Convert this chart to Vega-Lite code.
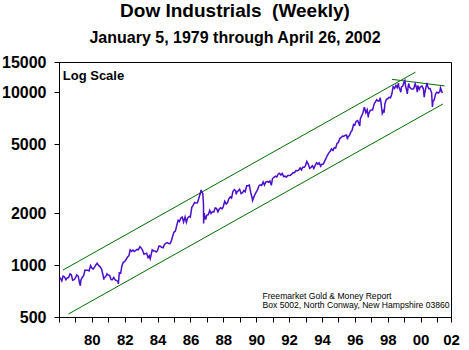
{
  "$schema": "https://vega.github.io/schema/vega-lite/v6.json",
  "width": 392,
  "height": 255,
  "padding": {"left": 1, "top": 2, "right": 10, "bottom": 2},
  "title": {
    "text": "Dow Industrials \u00a0(Weekly)",
    "subtitle": "January 5, 1979 through April 26, 2002",
    "anchor": "middle",
    "dx": -20,
    "font": "Liberation Sans",
    "fontSize": 19,
    "fontWeight": "bold",
    "color": "black",
    "subtitleFont": "Liberation Sans",
    "subtitleFontSize": 16,
    "subtitleFontWeight": "bold",
    "subtitleColor": "black",
    "subtitlePadding": 9,
    "offset": 8
  },
  "config": {
    "view": {"stroke": "black", "strokeWidth": 1},
    "axis": {
      "domainColor": "black",
      "tickColor": "black",
      "labelColor": "black",
      "labelFont": "Liberation Sans",
      "labelFontWeight": "bold",
      "grid": false,
      "tickSize": 5,
      "domainWidth": 1,
      "tickWidth": 1,
      "labelOverlap": false
    }
  },
  "datasets": {
    "dow": [
      {"t":1979.01,"v":830},{"t":1979.08,"v":839},{"t":1979.17,"v":809},{"t":1979.25,"v":862},{"t":1979.33,"v":855},{"t":1979.42,"v":822},{"t":1979.50,"v":842},{"t":1979.58,"v":846},{"t":1979.67,"v":888},{"t":1979.75,"v":878},{"t":1979.83,"v":816},{"t":1979.92,"v":822},{"t":1979.99,"v":839},
      {"t":1980.08,"v":876},{"t":1980.17,"v":863},{"t":1980.25,"v":786},{"t":1980.30,"v":759},{"t":1980.33,"v":817},{"t":1980.42,"v":851},{"t":1980.50,"v":868},{"t":1980.58,"v":935},{"t":1980.67,"v":933},{"t":1980.75,"v":932},{"t":1980.83,"v":925},{"t":1980.92,"v":993},{"t":1980.99,"v":964},
      {"t":1981.08,"v":947},{"t":1981.17,"v":975},{"t":1981.25,"v":1004},{"t":1981.32,"v":1024},{"t":1981.42,"v":992},{"t":1981.50,"v":977},{"t":1981.58,"v":953},{"t":1981.67,"v":882},{"t":1981.73,"v":824},{"t":1981.75,"v":850},{"t":1981.83,"v":853},{"t":1981.92,"v":889},{"t":1981.99,"v":875},
      {"t":1982.08,"v":871},{"t":1982.17,"v":825},{"t":1982.25,"v":823},{"t":1982.33,"v":848},{"t":1982.42,"v":820},{"t":1982.50,"v":812},{"t":1982.58,"v":809},{"t":1982.61,"v":777},{"t":1982.67,"v":901},{"t":1982.75,"v":896},{"t":1982.83,"v":992},{"t":1982.92,"v":1039},{"t":1982.99,"v":1047},
      {"t":1983.08,"v":1076},{"t":1983.17,"v":1113},{"t":1983.25,"v":1130},{"t":1983.33,"v":1226},{"t":1983.42,"v":1200},{"t":1983.50,"v":1222},{"t":1983.58,"v":1199},{"t":1983.67,"v":1216},{"t":1983.75,"v":1233},{"t":1983.83,"v":1225},{"t":1983.92,"v":1276},{"t":1983.99,"v":1259},
      {"t":1984.08,"v":1221},{"t":1984.17,"v":1155},{"t":1984.25,"v":1165},{"t":1984.33,"v":1171},{"t":1984.42,"v":1105},{"t":1984.50,"v":1132},{"t":1984.55,"v":1087},{"t":1984.58,"v":1115},{"t":1984.67,"v":1224},{"t":1984.75,"v":1207},{"t":1984.83,"v":1207},{"t":1984.92,"v":1189},{"t":1984.99,"v":1212},
      {"t":1985.08,"v":1287},{"t":1985.17,"v":1284},{"t":1985.25,"v":1267},{"t":1985.33,"v":1258},{"t":1985.42,"v":1315},{"t":1985.50,"v":1336},{"t":1985.58,"v":1348},{"t":1985.67,"v":1334},{"t":1985.75,"v":1329},{"t":1985.83,"v":1374},{"t":1985.92,"v":1472},{"t":1985.99,"v":1547},
      {"t":1986.08,"v":1571},{"t":1986.17,"v":1709},{"t":1986.25,"v":1819},{"t":1986.33,"v":1784},{"t":1986.42,"v":1877},{"t":1986.50,"v":1893},{"t":1986.58,"v":1775},{"t":1986.67,"v":1898},{"t":1986.75,"v":1768},{"t":1986.83,"v":1878},{"t":1986.92,"v":1914},{"t":1986.99,"v":1896},
      {"t":1987.08,"v":2158},{"t":1987.17,"v":2224},{"t":1987.25,"v":2305},{"t":1987.33,"v":2286},{"t":1987.42,"v":2292},{"t":1987.50,"v":2419},{"t":1987.58,"v":2572},{"t":1987.65,"v":2722},{"t":1987.67,"v":2663},{"t":1987.75,"v":2596},{"t":1987.79,"v":2247},{"t":1987.80,"v":1739},{"t":1987.83,"v":1994},{"t":1987.92,"v":1834},{"t":1987.99,"v":1939},
      {"t":1988.08,"v":1958},{"t":1988.17,"v":2072},{"t":1988.25,"v":1988},{"t":1988.33,"v":2032},{"t":1988.42,"v":2031},{"t":1988.50,"v":2142},{"t":1988.58,"v":2129},{"t":1988.67,"v":2032},{"t":1988.75,"v":2113},{"t":1988.83,"v":2149},{"t":1988.92,"v":2115},{"t":1988.99,"v":2169},
      {"t":1989.08,"v":2342},{"t":1989.17,"v":2258},{"t":1989.25,"v":2294},{"t":1989.33,"v":2419},{"t":1989.42,"v":2480},{"t":1989.50,"v":2440},{"t":1989.58,"v":2661},{"t":1989.67,"v":2737},{"t":1989.75,"v":2693},{"t":1989.78,"v":2569},{"t":1989.83,"v":2645},{"t":1989.92,"v":2706},{"t":1989.99,"v":2753},
      {"t":1990.08,"v":2591},{"t":1990.17,"v":2627},{"t":1990.25,"v":2707},{"t":1990.33,"v":2657},{"t":1990.42,"v":2877},{"t":1990.50,"v":2881},{"t":1990.58,"v":2905},{"t":1990.67,"v":2614},{"t":1990.75,"v":2453},{"t":1990.78,"v":2365},{"t":1990.83,"v":2442},{"t":1990.92,"v":2560},{"t":1990.99,"v":2634},
      {"t":1991.08,"v":2736},{"t":1991.17,"v":2882},{"t":1991.25,"v":2914},{"t":1991.33,"v":2888},{"t":1991.42,"v":3028},{"t":1991.50,"v":2907},{"t":1991.58,"v":3025},{"t":1991.67,"v":3044},{"t":1991.75,"v":3017},{"t":1991.83,"v":3069},{"t":1991.92,"v":2895},{"t":1991.99,"v":3169},
      {"t":1992.08,"v":3224},{"t":1992.17,"v":3268},{"t":1992.25,"v":3236},{"t":1992.33,"v":3359},{"t":1992.42,"v":3397},{"t":1992.50,"v":3319},{"t":1992.58,"v":3394},{"t":1992.67,"v":3257},{"t":1992.75,"v":3272},{"t":1992.83,"v":3226},{"t":1992.92,"v":3305},{"t":1992.99,"v":3301},
      {"t":1993.08,"v":3310},{"t":1993.17,"v":3371},{"t":1993.25,"v":3435},{"t":1993.33,"v":3428},{"t":1993.42,"v":3527},{"t":1993.50,"v":3516},{"t":1993.58,"v":3540},{"t":1993.67,"v":3651},{"t":1993.75,"v":3555},{"t":1993.83,"v":3681},{"t":1993.92,"v":3684},{"t":1993.99,"v":3754},
      {"t":1994.08,"v":3978},{"t":1994.17,"v":3832},{"t":1994.25,"v":3636},{"t":1994.33,"v":3682},{"t":1994.42,"v":3758},{"t":1994.50,"v":3625},{"t":1994.58,"v":3765},{"t":1994.67,"v":3913},{"t":1994.75,"v":3843},{"t":1994.83,"v":3908},{"t":1994.92,"v":3739},{"t":1994.99,"v":3834},
      {"t":1995.08,"v":3844},{"t":1995.17,"v":4011},{"t":1995.25,"v":4158},{"t":1995.33,"v":4321},{"t":1995.42,"v":4465},{"t":1995.50,"v":4556},{"t":1995.58,"v":4709},{"t":1995.67,"v":4611},{"t":1995.75,"v":4789},{"t":1995.83,"v":4756},{"t":1995.92,"v":5075},{"t":1995.99,"v":5117},
      {"t":1996.08,"v":5395},{"t":1996.17,"v":5486},{"t":1996.25,"v":5588},{"t":1996.33,"v":5569},{"t":1996.42,"v":5643},{"t":1996.50,"v":5655},{"t":1996.55,"v":5346},{"t":1996.58,"v":5529},{"t":1996.67,"v":5616},{"t":1996.75,"v":5882},{"t":1996.83,"v":6029},{"t":1996.92,"v":6522},{"t":1996.99,"v":6448},
      {"t":1997.08,"v":6813},{"t":1997.17,"v":6878},{"t":1997.25,"v":6584},{"t":1997.30,"v":6392},{"t":1997.33,"v":7009},{"t":1997.42,"v":7331},{"t":1997.50,"v":7673},{"t":1997.58,"v":8223},{"t":1997.67,"v":7622},{"t":1997.75,"v":7945},{"t":1997.82,"v":7161},{"t":1997.83,"v":7442},{"t":1997.92,"v":7823},{"t":1997.99,"v":7908},
      {"t":1998.08,"v":7907},{"t":1998.17,"v":8546},{"t":1998.25,"v":8800},{"t":1998.33,"v":9063},{"t":1998.42,"v":8900},{"t":1998.50,"v":8952},{"t":1998.54,"v":9338},{"t":1998.58,"v":8883},{"t":1998.67,"v":7539},{"t":1998.75,"v":7843},{"t":1998.78,"v":7632},{"t":1998.83,"v":8592},{"t":1998.92,"v":9117},{"t":1998.99,"v":9181},
      {"t":1999.08,"v":9359},{"t":1999.17,"v":9307},{"t":1999.25,"v":9786},{"t":1999.33,"v":10789},{"t":1999.42,"v":10560},{"t":1999.50,"v":10971},{"t":1999.58,"v":10655},{"t":1999.65,"v":11326},{"t":1999.67,"v":10829},{"t":1999.75,"v":10337},{"t":1999.80,"v":10019},{"t":1999.83,"v":10730},{"t":1999.92,"v":10878},{"t":1999.99,"v":11497},
      {"t":2000.04,"v":11723},{"t":2000.08,"v":10941},{"t":2000.17,"v":10128},{"t":2000.19,"v":9796},{"t":2000.25,"v":10922},{"t":2000.28,"v":11287},{"t":2000.33,"v":10734},{"t":2000.42,"v":10522},{"t":2000.50,"v":10448},{"t":2000.58,"v":10522},{"t":2000.67,"v":11215},{"t":2000.75,"v":10651},{"t":2000.80,"v":10034},{"t":2000.83,"v":10971},{"t":2000.92,"v":10415},{"t":2000.99,"v":10787},
      {"t":2001.08,"v":10887},{"t":2001.17,"v":10495},{"t":2001.22,"v":9389},{"t":2001.25,"v":9879},{"t":2001.33,"v":10735},{"t":2001.39,"v":11337},{"t":2001.42,"v":10912},{"t":2001.50,"v":10502},{"t":2001.58,"v":10523},{"t":2001.67,"v":9950},{"t":2001.72,"v":8236},{"t":2001.75,"v":8848},{"t":2001.83,"v":9075},{"t":2001.92,"v":9852},{"t":2001.99,"v":10022},
      {"t":2002.08,"v":9920},{"t":2002.17,"v":10106},{"t":2002.21,"v":10635},{"t":2002.25,"v":10404},{"t":2002.32,"v":9910}
    ],
    "channel": [
      {"t1":1979.24,"v1":935,"t2":2000.69,"v2":13100},
      {"t1":1979.57,"v1":520,"t2":2002.36,"v2":8570},
      {"t1":1999.26,"v1":11900,"t2":2002.46,"v2":10900}
    ],
    "notes": [
      {"t":1979.23,"v":11800,"label":"Log Scale"}
    ],
    "credits": [
      {"t":1991.38,"v":636,"label":"Freemarket Gold & Money Report"},
      {"t":1991.38,"v":562,"label":"Box 5002, North Conway, New Hampshire 03860"}
    ]
  },
  "layer": [
    {
      "data": {"name": "channel"},
      "mark": {"type": "rule", "color": "#006E00", "strokeWidth": 1},
      "encoding": {
        "x": {
          "field": "t1",
          "type": "quantitative",
          "scale": {"domain": [1979, 2002.85], "nice": false, "zero": false},
          "axis": {
            "title": null,
            "values": [1979,1980,1981,1982,1983,1984,1985,1986,1987,1988,1989,1990,1991,1992,1993,1994,1995,1996,1997,1998,1999,2000,2001,2002,2002.85],
            "tickCount": 40,
            "labelExpr": "datum.value > 2002.5 ? '02' : (datum.value >= 1981 && datum.value % 2 == 1 ? slice(toString(datum.value - 1), 2) : '')",
            "labelFlush": false,
            "labelOverlap": false,
            "labelFontSize": 15,
            "labelPadding": 10
          }
        },
        "x2": {"field": "t2"},
        "y": {
          "field": "v1",
          "type": "quantitative",
          "scale": {"type": "log", "domain": [500, 15000], "nice": false},
          "axis": {
            "title": null,
            "values": [500, 1000, 2000, 5000, 10000, 15000],
            "tickCount": 20,
            "format": "d",
            "labelOverlap": false,
            "labelFontSize": 16,
            "labelPadding": 8
          }
        },
        "y2": {"field": "v2"}
      }
    },
    {
      "data": {"name": "dow"},
      "mark": {"type": "line", "color": "#4A0ECC", "strokeWidth": 1.5},
      "encoding": {
        "x": {
          "field": "t",
          "type": "quantitative",
          "scale": {"domain": [1979, 2002.85], "nice": false, "zero": false},
          "axis": {
            "title": null,
            "values": [1979,1980,1981,1982,1983,1984,1985,1986,1987,1988,1989,1990,1991,1992,1993,1994,1995,1996,1997,1998,1999,2000,2001,2002,2002.85],
            "tickCount": 40,
            "labelExpr": "datum.value > 2002.5 ? '02' : (datum.value >= 1981 && datum.value % 2 == 1 ? slice(toString(datum.value - 1), 2) : '')",
            "labelFlush": false,
            "labelOverlap": false,
            "labelFontSize": 15,
            "labelPadding": 10
          }
        },
        "y": {
          "field": "v",
          "type": "quantitative",
          "scale": {"type": "log", "domain": [500, 15000], "nice": false},
          "axis": {
            "title": null,
            "values": [500, 1000, 2000, 5000, 10000, 15000],
            "tickCount": 20,
            "format": "d",
            "labelOverlap": false,
            "labelFontSize": 16,
            "labelPadding": 8
          }
        }
      }
    },
    {
      "data": {"name": "notes"},
      "mark": {"type": "text", "align": "left", "baseline": "alphabetic", "font": "Liberation Sans", "fontSize": 13, "fontWeight": "bold", "color": "black"},
      "encoding": {
        "x": {"field": "t", "type": "quantitative"},
        "y": {"field": "v", "type": "quantitative"},
        "text": {"field": "label"}
      }
    },
    {
      "data": {"name": "credits"},
      "mark": {"type": "text", "align": "left", "baseline": "alphabetic", "font": "Liberation Sans", "fontSize": 8.6, "color": "black"},
      "encoding": {
        "x": {"field": "t", "type": "quantitative"},
        "y": {"field": "v", "type": "quantitative"},
        "text": {"field": "label"}
      }
    }
  ]
}
